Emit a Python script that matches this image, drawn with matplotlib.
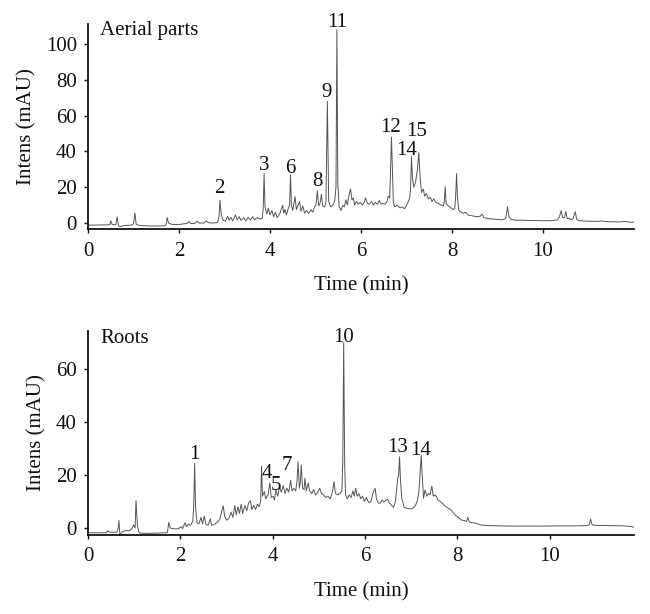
import matplotlib
matplotlib.use("Agg")
import matplotlib.pyplot as plt

# ---------------- data ----------------
aerial_time = [
    0.00, 0.45, 0.48, 0.50, 0.53, 0.61, 0.64, 0.67, 0.72, 0.80, 0.95, 1.00, 1.03, 1.06, 1.12, 1.30, 1.50,
    1.70, 1.72, 1.74, 1.77, 1.85, 2.00, 2.10, 2.18, 2.22, 2.26, 2.35, 2.40, 2.44, 2.55, 2.60, 2.64, 2.75,
    2.85, 2.88, 2.90, 2.93, 2.97, 3.02, 3.07, 3.10, 3.14, 3.18, 3.24, 3.28, 3.32, 3.36, 3.42, 3.47, 3.52,
    3.57, 3.62, 3.66, 3.72, 3.78, 3.83, 3.85, 3.87, 3.89, 3.93, 3.96, 4.00, 4.04, 4.08, 4.12, 4.16, 4.22,
    4.25, 4.28, 4.30, 4.33, 4.36, 4.40, 4.43, 4.45, 4.47, 4.50, 4.55, 4.58, 4.62, 4.65, 4.68, 4.72, 4.76,
    4.80, 4.85, 4.90, 4.94, 4.98, 5.01, 5.04, 5.07, 5.10, 5.13, 5.16, 5.20, 5.23, 5.26, 5.29, 5.33, 5.38,
    5.42, 5.45, 5.47, 5.49, 5.52, 5.56, 5.60, 5.63, 5.67, 5.70, 5.74, 5.77, 5.80, 5.83, 5.86, 5.90, 5.94,
    5.98, 6.03, 6.07, 6.10, 6.14, 6.18, 6.23, 6.27, 6.31, 6.36, 6.40, 6.44, 6.48, 6.53, 6.57, 6.60, 6.63,
    6.65, 6.67, 6.69, 6.71, 6.74, 6.80, 6.85, 6.90, 6.96, 7.00, 7.04, 7.07, 7.09, 7.11, 7.13, 7.16, 7.20,
    7.24, 7.27, 7.30, 7.33, 7.37, 7.40, 7.44, 7.48, 7.52, 7.56, 7.60, 7.64, 7.70, 7.76, 7.81, 7.83, 7.85,
    7.87, 7.92, 7.98, 8.03, 8.06, 8.08, 8.10, 8.12, 8.15, 8.20, 8.25, 8.30, 8.35, 8.45, 8.55, 8.62, 8.66,
    8.70, 8.80, 8.90, 9.00, 9.10, 9.18, 9.22, 9.25, 9.30, 9.40, 9.60, 9.80, 10.00, 10.20, 10.32, 10.36,
    10.40, 10.43, 10.47, 10.50, 10.53, 10.58, 10.62, 10.66, 10.71, 10.74, 10.80, 11.00, 11.20, 11.30,
    11.35, 11.50, 11.70, 11.80, 11.90, 12.00,
]
aerial_intens = [
    -1.2, -1.0, -0.8, 1.3, -0.8, -1.0, 3.5, -1.5, -2.0, -1.4, -1.2, -0.5, 5.6, -0.8, -1.3, -1.6, -1.7,
    -1.5, -0.5, 3.0, 0.0, -0.8, -0.8, -0.5, -0.2, 0.8, -0.3, -0.2, 1.0, 0.0, 0.0, 1.2, 0.2, 0.0,
    0.3, 4.0, 12.8, 4.5, 1.5, 1.0, 3.8, 1.5, 3.2, 1.2, 4.5, 1.8, 3.6, 1.5, 3.0, 1.2, 3.2,
    1.6, 3.5, 1.8, 3.0, 2.2, 2.8, 8.0, 27.7, 9.0, 5.0, 8.2, 4.5, 7.0, 3.5, 6.0, 3.0, 5.5,
    8.0, 10.0, 5.5, 7.5, 4.5, 8.0, 10.0, 26.8, 10.0, 7.0, 14.7, 7.5, 10.0, 12.0, 6.5, 9.5, 5.5,
    7.0, 5.5, 7.5, 6.0, 9.0, 10.0, 17.9, 9.5, 11.0, 16.0, 9.5, 9.0, 12.0, 68.0, 12.0, 9.0, 10.0,
    12.0, 20.0, 108.0, 22.0, 9.0, 7.0, 10.0, 9.0, 13.0, 10.0, 16.0, 19.0, 13.0, 14.0, 10.0, 12.0, 10.5,
    11.5, 10.0, 11.5, 14.0, 11.0, 10.5, 12.0, 10.0, 11.5, 10.5, 12.5, 10.5, 11.0, 10.5, 12.0, 15.0, 14.0,
    30.0, 48.0, 30.0, 12.0, 9.0, 10.0, 8.5, 9.0, 8.0, 10.0, 12.0, 14.0, 20.0, 37.0, 25.0, 20.0, 23.0,
    30.0, 39.3, 25.0, 17.0, 19.0, 15.0, 16.5, 13.5, 14.5, 12.0, 13.5, 11.5, 11.0, 10.0, 9.5, 12.0, 20.3,
    11.0, 9.5, 8.5, 7.5, 8.0, 15.0, 27.7, 14.0, 7.0, 6.0, 5.5, 6.0, 4.5, 4.0, 3.5, 3.8, 5.0,
    3.0, 2.5, 2.2, 2.0, 1.8, 2.5, 9.1, 3.5, 2.0, 1.6, 1.5, 1.4, 1.3, 1.3, 1.8, 3.5,
    6.9, 3.0, 3.0, 6.5, 2.5, 2.5, 2.0, 2.5, 6.3, 2.0, 1.3, 1.0, 0.9, 1.2,
    0.8, 0.7, 0.6, 0.9, 0.5, 0.5,
]

roots_time = [
    0.00, 0.40, 0.43, 0.47, 0.62, 0.65, 0.67, 0.69, 0.74, 0.80, 0.90, 0.96, 0.99, 1.02, 1.04, 1.07, 1.10,
    1.15, 1.40, 1.60, 1.72, 1.73, 1.75, 1.78, 1.85, 1.95, 2.02, 2.05, 2.10, 2.13, 2.18, 2.22, 2.27, 2.29,
    2.31, 2.33, 2.36, 2.40, 2.45, 2.48, 2.52, 2.55, 2.60, 2.65, 2.68, 2.75, 2.82, 2.86, 2.90, 2.93, 2.96,
    3.00, 3.05, 3.10, 3.14, 3.18, 3.21, 3.25, 3.28, 3.32, 3.35, 3.40, 3.44, 3.48, 3.52, 3.55, 3.59, 3.63,
    3.67, 3.71, 3.74, 3.76, 3.78, 3.82, 3.85, 3.90, 3.94, 3.97, 4.01, 4.04, 4.07, 4.11, 4.15, 4.19, 4.23,
    4.27, 4.31, 4.35, 4.39, 4.42, 4.46, 4.50, 4.53, 4.55, 4.58, 4.60, 4.62, 4.65, 4.68, 4.70, 4.73, 4.77,
    4.80, 4.85, 4.89, 4.93, 4.98, 5.02, 5.06, 5.10, 5.15, 5.20, 5.25, 5.30, 5.33, 5.36, 5.41, 5.46, 5.50,
    5.52, 5.54, 5.56, 5.58, 5.62, 5.66, 5.70, 5.74, 5.77, 5.80, 5.83, 5.87, 5.91, 5.95, 5.99, 6.03, 6.07,
    6.10, 6.14, 6.17, 6.22, 6.25, 6.29, 6.33, 6.37, 6.41, 6.45, 6.49, 6.53, 6.58, 6.62, 6.66, 6.69, 6.71,
    6.73, 6.75, 6.77, 6.80, 6.85, 6.92, 7.00, 7.06, 7.10, 7.14, 7.17, 7.20, 7.22, 7.24, 7.27, 7.30, 7.34,
    7.38, 7.41, 7.45, 7.48, 7.52, 7.55, 7.58, 7.65, 7.72, 7.80, 7.87, 7.95, 8.02, 8.09, 8.15, 8.20, 8.23,
    8.26, 8.32, 8.40, 8.52, 8.70, 9.03, 9.40, 9.80, 10.20, 10.60, 10.80, 10.86, 10.89, 10.92, 11.00,
    11.30, 11.60, 11.75, 11.83,
]
roots_intens = [
    -1.8, -1.8, -1.0, -1.6, -1.6, -0.5, 2.8, -2.5, -1.5, -1.0, -1.0, 0.0, 1.2, 0.0, 10.3, 1.0, -1.5,
    -2.0, -2.0, -1.9, -1.8, -0.5, 2.1, 0.0, -0.3, -0.3, 0.5, -0.2, 2.0, 0.5, 1.5, 1.0, 2.5, 8.0,
    24.4, 8.0, 2.0, 1.5, 4.0, 1.5, 4.5, 1.5, 1.0, 3.5, 1.0, 1.5, 2.5, 3.5, 6.5, 8.3, 4.5,
    3.0, 3.5, 6.0, 4.0, 8.5, 5.0, 8.0, 5.5, 9.0, 5.5, 8.5, 6.5, 9.5, 10.3, 7.0, 8.5, 7.0,
    9.0, 8.0, 10.0, 23.4, 12.0, 13.7, 11.0, 12.5, 16.9, 11.5, 12.0, 10.5, 14.3, 12.0, 15.5, 13.5, 16.0,
    13.0, 15.0, 13.5, 18.0, 14.0, 15.0, 14.0, 18.0, 25.0, 15.0, 17.0, 23.8, 15.0, 14.5, 18.8, 14.0, 17.0,
    14.0, 13.0, 14.5, 12.5, 13.5, 15.0, 13.0, 12.5, 11.5, 12.0, 11.0, 14.0, 17.5, 13.0, 12.5, 13.0, 14.0,
    25.0, 70.0, 25.0, 12.5, 11.0, 12.5, 11.5, 14.0, 12.0, 15.0, 12.0, 13.0, 11.0, 12.0, 10.0, 11.5, 10.0,
    9.5, 10.5, 13.0, 15.0, 11.0, 9.5, 9.3, 10.5, 9.8, 10.5, 10.8, 9.5, 8.5, 7.8, 10.0, 15.0, 18.6,
    20.0, 26.9, 18.0, 11.0, 7.8, 7.3, 7.2, 7.8, 8.7, 10.5, 14.0, 22.0, 27.5, 20.0, 11.2, 14.3, 12.0,
    13.0, 12.5, 15.8, 12.0, 12.5, 11.8, 10.6, 9.8, 8.5, 7.5, 6.8, 5.0, 4.0, 3.0, 2.8, 2.5, 4.0,
    2.3, 2.0, 1.8, 1.1, 0.9, 0.75, 0.7, 0.7, 0.8, 0.8, 0.9, 1.2, 3.3, 1.2, 1.0,
    0.9, 0.8, 0.6, 0.3,
]

# peak labels: text, label x (min), label baseline y (mAU)
aerial_labels = ["2", "3", "6", "8", "9", "11", "12", "14", "15"]
aerial_label_t = [2.88, 3.87, 4.45, 5.04, 5.25, 5.48, 6.64, 7.00, 7.22]
aerial_label_y = [16.8, 29.6, 28.1, 20.7, 70.6, 109.5, 50.8, 38.0, 48.6]

roots_labels = ["1", "4", "5", "7", "10", "13", "14"]
roots_label_t = [2.31, 3.88, 4.08, 4.31, 5.54, 6.71, 7.20]
roots_label_y = [25.9, 18.8, 14.3, 21.9, 70.1, 28.8, 27.5]

x_ticks = [0, 2, 4, 6, 8, 10]
aerial_y_ticks = [0, 20, 40, 60, 80, 100]
roots_y_ticks = [0, 20, 40, 60]

# ---------------- drawing ----------------
FONT = "Liberation Serif"
FS = 15
LINE_COLOR = "#555555"
INK = "#111111"

plt.rcParams["font.family"] = [FONT, "DejaVu Serif"]

fig = plt.figure(figsize=(6.5, 6.14), dpi=100)
ax1 = fig.add_axes([0.1354, 0.627, 0.840, 0.334])
ax2 = fig.add_axes([0.1354, 0.1287, 0.840, 0.332])


def style(ax, yticks, xlim, ylim):
    ax.set_xlim(*xlim)
    ax.set_ylim(*ylim)
    ax.set_xticks(x_ticks)
    ax.set_yticks(yticks)
    for s in ["top", "right"]:
        ax.spines[s].set_visible(False)
    for s in ["left", "bottom"]:
        ax.spines[s].set_linewidth(1.3)
        ax.spines[s].set_color(INK)
    ax.tick_params(axis="both", direction="out", length=3, width=1.0,
                   labelsize=FS, colors=INK)
    ax.tick_params(axis="x", pad=6)
    ax.tick_params(axis="y", pad=5)
    ax.set_xlabel("Time (min)", fontsize=FS, labelpad=11, color=INK)
    ax.set_ylabel("Intens (mAU)", fontsize=FS, labelpad=7, color=INK)


ax1.plot(aerial_time, aerial_intens, color=LINE_COLOR, lw=0.7)
style(ax1, aerial_y_ticks, (0, 12.0), (-3.35, 111.2))
ax1.text(0.26, 105, "Aerial parts", fontsize=FS, va="baseline", ha="left", color=INK)
for lab, t, y in zip(aerial_labels, aerial_label_t, aerial_label_y):
    ax1.text(t, y, lab, fontsize=FS, ha="center", va="baseline", color=INK)

ax2.plot(roots_time, roots_intens, color=LINE_COLOR, lw=0.7)
style(ax2, roots_y_ticks, (0, 11.83), (-2.64, 74.3))
ax2.text(0.26, 69.7, "Roots", fontsize=FS, va="baseline", ha="left", color=INK)
for lab, t, y in zip(roots_labels, roots_label_t, roots_label_y):
    ax2.text(t, y, lab, fontsize=FS, ha="center", va="baseline", color=INK)

fig.savefig("out.png", dpi=100, facecolor="white")
